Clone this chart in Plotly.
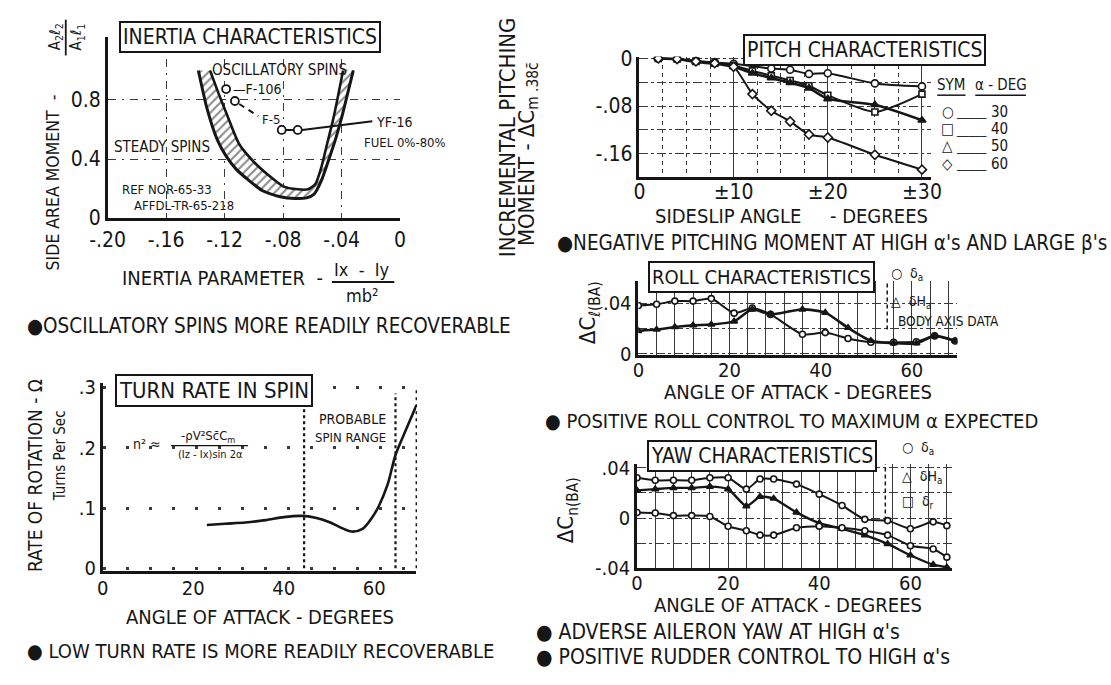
import plotly.graph_objects as go

W, H = 1111, 685
FONT = "Liberation Sans Narrow, DejaVu Sans Condensed, Liberation Sans, Arial, sans-serif"
INK = "#161616"
GRID = "#3a3a3a"

# ---------------- data ----------------
# Inertia characteristics: boundary band between steady and oscillatory spins
inertia_outer_x = [-0.138, -0.132, -0.125, -0.119, -0.112, -0.104, -0.094, -0.082, -0.072,
                   -0.064, -0.059, -0.054, -0.049, -0.044, -0.040, -0.036, -0.032]
inertia_outer_y = [1.00, 0.74, 0.53, 0.42, 0.33, 0.26, 0.185, 0.145, 0.133,
                   0.137, 0.16, 0.25, 0.39, 0.54, 0.68, 0.84, 1.00]
inertia_inner_x = [-0.130, -0.124, -0.118, -0.110, -0.100, -0.090, -0.080, -0.070,
                   -0.063, -0.058, -0.054, -0.050, -0.046, -0.043, -0.039]
inertia_inner_y = [1.00, 0.84, 0.69, 0.50, 0.38, 0.29, 0.215, 0.195,
                   0.195, 0.23, 0.34, 0.50, 0.66, 0.80, 1.00]
inertia_f106 = [-0.119, 0.874]
inertia_f5 = [-0.113, 0.793]
inertia_yf16_x = [-0.081, -0.070]
inertia_yf16_y = [0.597, 0.597]

# Pitch characteristics: incremental pitching moment vs sideslip, per alpha
pitch_beta = [2, 4, 6, 8, 10, 12, 14, 16, 18, 20, 25, 30]
pitch_beta_30 = [2, 4, 6, 8, 10, 14, 16, 18, 20, 25, 30]
pitch_cm_30 = [0, -0.001, -0.004, -0.007, -0.009, -0.017, -0.019, -0.026, -0.025, -0.042, -0.047]
pitch_cm_40 = [0, -0.001, -0.005, -0.008, -0.012, -0.021, -0.029, -0.037, -0.046, -0.062, -0.090, -0.060]
pitch_cm_50 = [0, -0.001, -0.006, -0.009, -0.014, -0.025, -0.033, -0.041, -0.050, -0.068, -0.078, -0.104]
pitch_cm_60 = [0, -0.001, -0.005, -0.008, -0.014, -0.060, -0.088, -0.106, -0.128, -0.133, -0.162, -0.187]
pitch_alpha_labels = ["30", "40", "50", "60"]

# Roll characteristics
roll_alpha = [0, 4, 8, 12, 16, 21, 25, 29, 36, 41, 46, 51, 56, 61, 65, 69.5]
roll_da = [0.038, 0.039, 0.0415, 0.0415, 0.0435, 0.032, 0.036, 0.031, 0.0153, 0.0166,
           0.012, 0.009, 0.009, 0.0094, 0.014, 0.010]
roll_dHa = [0.018, 0.019, 0.021, 0.0224, 0.023, 0.0255, 0.035, 0.031, 0.035, 0.0324,
            0.0204, 0.0102, 0.0082, 0.0082, 0.014, 0.0102]
roll_body_axis_alpha = 54.6

# Yaw characteristics
yaw_alpha = [0, 4, 8, 12, 16, 20, 24, 27, 30, 35, 40, 45, 50, 55, 60, 65, 68]
yaw_dr = [0.032, 0.030, 0.030, 0.030, 0.032, 0.032, 0.023, 0.031, 0.031, 0.027, 0.019,
          0.010, -0.001, -0.002, -0.0085, -0.003, -0.006]
yaw_dHa = [0.022, 0.023, 0.024, 0.024, 0.025, 0.023, 0.0095, 0.017, 0.0155, 0.0045, -0.004,
           -0.0085, -0.0135, -0.0205, -0.0295, -0.037, -0.039]
yaw_da = [0.0045, 0.004, 0.002, 0.002, 0.0013, -0.0065, -0.010, -0.0135, -0.0135, -0.0077,
          -0.0064, -0.0077, -0.010, -0.0135, -0.022, -0.0245, -0.031]
yaw_box_alpha = 54.5

# Turn rate in spin
turn_alpha = [23, 27, 31.5, 36, 40, 44, 47, 50, 52.5, 55, 57.5, 59.5, 61, 63, 64.7, 67.2, 69.3]
turn_rate = [0.072, 0.074, 0.076, 0.080, 0.085, 0.087, 0.084, 0.077, 0.068, 0.061, 0.066,
             0.084, 0.103, 0.140, 0.188, 0.233, 0.270]
spin_range_bounds = [44.5, 64.7]


# ---------------- helpers ----------------
def X(p):
    return p / W


def Y(p):
    return 1 - p / H


def series(x, y, xa, ya, symbol=None, filled=False, width=2.0, msize=7, smoothing=0.6):
    kw = dict(x=x, y=y, xaxis=xa, yaxis=ya, showlegend=False, hoverinfo="skip",
              line=dict(color=INK, width=width, shape="spline", smoothing=smoothing))
    if symbol:
        kw["mode"] = "lines+markers"
        kw["marker"] = dict(symbol=symbol, size=msize, color=INK if filled else "white",
                            line=dict(color=INK, width=1.6))
    else:
        kw["mode"] = "lines"
    return go.Scatter(**kw)


def axis(domain, rng, tickvals, ticktext, anchor, tsize=21, griddash="dashdot",
         showgrid=True, minor=None, gridwidth=1, standoff=0):
    d = dict(domain=domain, range=rng, anchor=anchor, tickmode="array", tickvals=tickvals,
             ticktext=ticktext, showline=True, linecolor=INK, linewidth=2.6, ticks="",
             showgrid=showgrid, gridcolor=GRID, gridwidth=gridwidth, griddash=griddash,
             zeroline=False, fixedrange=True, ticklabelstandoff=standoff,
             tickfont=dict(family=FONT, size=tsize, color=INK))
    if minor:
        d["minor"] = minor
    return d


def txt(x, y, s, size, xanchor="center", yanchor="middle", angle=0, box=False):
    a = dict(x=X(x), y=Y(y), xref="paper", yref="paper", text=s, showarrow=False,
             font=dict(family=FONT, size=size, color=INK), xanchor=xanchor,
             yanchor=yanchor, textangle=angle)
    if box:
        a.update(bordercolor=INK, borderwidth=2, borderpad=2, bgcolor="white")
    return a


def dtxt(x, y, s, size, xr, yr, xanchor="center"):
    return dict(x=x, y=y, xref=xr, yref=yr, text=s, showarrow=False, xanchor=xanchor,
                yanchor="middle", font=dict(family=FONT, size=size, color=INK))


fig = go.Figure()

# ---- inertia band (hatched) ----
band_x = inertia_outer_x + inertia_inner_x[::-1]
band_y = inertia_outer_y + inertia_inner_y[::-1]
fig.add_trace(go.Scatter(x=band_x, y=band_y, xaxis="x", yaxis="y", mode="lines",
                         fill="toself", fillcolor="white",
                         fillpattern=dict(shape="/", fgcolor=INK, bgcolor="white",
                                          size=6, solidity=0.35),
                         line=dict(width=0, shape="spline", smoothing=0.6),
                         showlegend=False, hoverinfo="skip"))
fig.add_trace(series(inertia_outer_x, inertia_outer_y, "x", "y", width=3))
fig.add_trace(series(inertia_inner_x, inertia_inner_y, "x", "y", width=2.6))
fig.add_trace(go.Scatter(x=[inertia_f106[0], inertia_f5[0]], y=[inertia_f106[1], inertia_f5[1]],
                         xaxis="x", yaxis="y", mode="markers", showlegend=False,
                         hoverinfo="skip",
                         marker=dict(symbol="circle", size=8, color="white",
                                     line=dict(color=INK, width=1.8))))
fig.add_trace(go.Scatter(x=inertia_yf16_x, y=inertia_yf16_y, xaxis="x", yaxis="y",
                         mode="lines+markers", showlegend=False, hoverinfo="skip",
                         line=dict(color=INK, width=2),
                         marker=dict(symbol="circle", size=8, color="white",
                                     line=dict(color=INK, width=1.8))))

# ---- pitch ----
fig.add_trace(series(pitch_beta_30, pitch_cm_30, "x2", "y2", "circle"))
fig.add_trace(series(pitch_beta, pitch_cm_40, "x2", "y2", "square", msize=6))
fig.add_trace(series(pitch_beta, pitch_cm_50, "x2", "y2", "triangle-up", filled=True, width=2.6))
fig.add_trace(series(pitch_beta, pitch_cm_60, "x2", "y2", "diamond"))

# ---- roll ----
fig.add_trace(series(roll_alpha, roll_da, "x3", "y3", "circle", msize=6))
fig.add_trace(series(roll_alpha, roll_dHa, "x3", "y3", "triangle-up", filled=True, width=2.6, msize=6))

# ---- yaw ----
fig.add_trace(series(yaw_alpha, yaw_dr, "x4", "y4", "circle", msize=6))
fig.add_trace(series(yaw_alpha, yaw_dHa, "x4", "y4", "triangle-up", filled=True, width=2.4, msize=6))
fig.add_trace(series(yaw_alpha, yaw_da, "x4", "y4", "circle", msize=6))

# ---- turn rate ----
fig.add_trace(series(turn_alpha, turn_rate, "x5", "y5", width=2.6, smoothing=0.8))

minor_dash = dict(showgrid=True, gridcolor=GRID, gridwidth=1, griddash="4px,4px", ticks="")

fig.update_layout(
    width=W, height=H, autosize=False, margin=dict(l=0, r=0, t=0, b=0),
    paper_bgcolor="white", plot_bgcolor="white", showlegend=False,
    xaxis=axis([X(92), X(392)], [-0.2, 0], [-0.2, -0.16, -0.12, -0.08, -0.04, 0],
               ["-.20", "-.16", "-.12", "-.08", "-.04", "0"], "y", griddash="8px,6px,2px,6px",
               standoff=1),
    yaxis=axis([Y(215), Y(28)], [0, 1.226], [0, 0.4, 0.8], ["0", "0.4", "0.8"], "x",
               griddash="8px,6px,2px,6px"),
    xaxis2=axis([X(637.5), X(937)], [0, 31], [0, 10, 20, 30], ["0", "±10", "±20", "±30"], "y2",
                griddash="solid", minor=dict(dtick=2.5, **minor_dash), standoff=-6),
    yaxis2=axis([Y(172.3), Y(48.2)], [-0.199, 0.003], [0, -0.08, -0.16], ["0", "-.08", "-.16"], "x2",
                minor=dict(dtick=0.04, showgrid=True, gridcolor=GRID, gridwidth=1,
                           griddash="dashdot", ticks="")),
    xaxis3=axis([X(636.4), X(963.7)], [0, 70], [0, 20, 40, 60], ["0", "20", "40", "60"], "y3",
                tsize=20, griddash="solid", standoff=-5,
                minor=dict(dtick=4, showgrid=True, gridcolor=GRID, gridwidth=1, griddash="solid", ticks="")),
    yaxis3=axis([Y(356.7), Y(280)], [-0.0013, 0.0574], [0, 0.04], ["0", ".04"], "x3", tsize=20,
                minor=dict(dtick=0.02, showgrid=True, gridcolor=GRID, gridwidth=1,
                           griddash="dashdot", ticks="")),
    xaxis4=axis([X(635), X(958)], [0, 69.1], [0, 20, 40, 60], ["0", "20", "40", "60"], "y4",
                tsize=20, griddash="solid", standoff=-5,
                minor=dict(dtick=4, showgrid=True, gridcolor=GRID, gridwidth=1, griddash="solid", ticks="")),
    yaxis4=axis([Y(577), Y(469)], [-0.04, 0.043], [-0.04, 0, 0.04], ["-.04", "0", ".04"], "x4", tsize=20,
                minor=dict(dtick=0.02, showgrid=True, gridcolor=GRID, gridwidth=1,
                           griddash="dashdot", ticks="")),
    xaxis5=axis([X(87), X(408.6)], [0, 69.3], [0, 20, 40, 60], ["0", "20", "40", "60"], "y5",
                showgrid=False, tsize=20, standoff=-3),
    yaxis5=axis([Y(580), Y(385)], [-0.005, 0.308], [0, 0.1, 0.2, 0.3], ["0", ".1", ".2", ".3"], "x5",
                griddash="3px,20px", gridwidth=3, tsize=20),
)

ann = []
# title boxes
ann.append(txt(237.5, 28, "INERTIA CHARACTERISTICS", 21, box=True))
ann.append(txt(868, 41, "PITCH CHARACTERISTICS", 21, box=True))
ann.append(txt(763, 276, "ROLL CHARACTERISTICS", 20, box=True))
ann.append(txt(763, 461, "YAW CHARACTERISTICS", 21, box=True))
ann.append(txt(201.5, 393, "TURN RATE IN SPIN", 22, box=True))

# --- inertia texts ---
ann.append(txt(36, 178, "SIDE AREA MOMENT  -", 17.5, angle=-90))
ann.append(txt(38, 28, "A<sub>2</sub>ℓ<sub>2</sub>", 15, angle=-90))
ann.append(txt(60, 28, "A<sub>1</sub>ℓ<sub>1</sub>", 15, angle=-90))
ann.append(txt(210, 277, "INERTIA PARAMETER  -", 20))
ann.append(txt(353, 268, "Ix  -  Iy", 18))
ann.append(txt(353, 295, "mb²", 18))
ann.append(txt(268, 62, "OSCILLATORY SPINS", 15))
ann.append(txt(147.5, 141.5, "STEADY SPINS", 15))
ann.append(txt(152.5, 185, "REF NOR-65-33", 13))
ann.append(txt(170.8, 201.7, "AFFDL-TR-65-218", 13))
ann.append(dtxt(-0.116, inertia_f106[1], "—F-106", 14, "x", "y", xanchor="left"))
ann.append(dtxt(-0.088, 0.669, "F-5", 13, "x", "y"))
ann.append(dtxt(-0.018, 0.650, "YF-16", 14, "x", "y", xanchor="left"))
ann.append(dtxt(-0.026, 0.512, "FUEL 0%-80%", 13, "x", "y", xanchor="left"))
ann.append(txt(7, 326, "●OSCILLATORY SPINS MORE READILY RECOVERABLE", 20.5, xanchor="left"))

# --- pitch texts ---
ann.append(txt(502, 131, "INCREMENTAL PITCHING", 22, angle=-90))
ann.append(txt(523, 149, "MOMENT - ΔC<sub>m .38c̄</sub>", 22, angle=-90))
ann.append(txt(794, 213, "SIDESLIP ANGLE\u00a0\u00a0\u00a0\u00a0\u00a0- DEGREES", 20))
ann.append(txt(551, 241, "●NEGATIVE PITCHING MOMENT AT HIGH α's AND LARGE β's", 20.5, xanchor="left"))
ann.append(txt(957, 78, "SYM", 15))
ann.append(txt(1008, 78, "α - DEG", 15))
for i, (sym, lab) in enumerate(zip(["○", "□", "△", "◇"], pitch_alpha_labels)):
    yy = 105 + i * 18
    ann.append(txt(954, yy, sym, 15))
    ann.append(txt(978, yy, "_____", 13))
    ann.append(txt(1007, yy, lab, 15))

# --- roll texts ---
ann.append(txt(587, 313, "ΔC<sub>ℓ(BA)</sub>", 22, angle=-90))
ann.append(txt(800, 395, "ANGLE OF ATTACK - DEGREES", 20))
ann.append(txt(894, 273, "○  δ<sub>a</sub>", 14, xanchor="left"))
ann.append(txt(894, 302, "△  δH<sub>a</sub>", 14, xanchor="left"))
ann.append(txt(901, 321, "BODY AXIS DATA", 13.5, xanchor="left"))
ann.append(txt(539, 425, "● POSITIVE ROLL CONTROL TO MAXIMUM α EXPECTED", 20, xanchor="left"))

# --- yaw texts ---
ann.append(txt(564, 517, "ΔC<sub>n(BA)</sub>", 22, angle=-90))
ann.append(txt(790, 615, "ANGLE OF ATTACK - DEGREES", 20))
ann.append(txt(905, 453, "○  δ<sub>a</sub>", 14, xanchor="left"))
ann.append(txt(905, 482, "△  δH<sub>a</sub>", 14, xanchor="left"))
ann.append(txt(905, 508, "□  δ<sub>r</sub>", 14, xanchor="left"))
ann.append(txt(529, 643, "● ADVERSE AILERON YAW AT HIGH α's", 21, xanchor="left"))
ann.append(txt(529, 668, "● POSITIVE RUDDER CONTROL TO HIGH α's", 21, xanchor="left"))

# --- turn texts ---
ann.append(txt(17, 481, "RATE OF ROTATION - Ω", 19, angle=-90))
ann.append(txt(43, 460, "Turns Per Sec", 15, angle=-90))
ann.append(txt(132, 448, "n² ≈", 14))
ann.append(txt(195, 441, "-ρV²Sc̄C<sub>m</sub>", 13))
ann.append(txt(197, 459, "(Iz - Ix)sin 2α", 11))
ann.append(txt(343, 423, "PROBABLE", 14))
ann.append(txt(341, 442, "SPIN RANGE", 13))
ann.append(txt(248, 627, "ANGLE OF ATTACK - DEGREES", 20))
ann.append(txt(7, 662, "● LOW TURN RATE IS MORE READILY RECOVERABLE", 20, xanchor="left"))

fig.update_layout(annotations=ann)

shapes = []
# fraction bars
shapes.append(dict(type="line", xref="paper", yref="paper", x0=X(49), x1=X(49), y0=Y(10), y1=Y(47),
                   line=dict(color=INK, width=1.8)))
shapes.append(dict(type="line", xref="paper", yref="paper", x0=X(322), x1=X(386), y0=Y(281), y1=Y(281),
                   line=dict(color=INK, width=1.8)))
shapes.append(dict(type="line", xref="paper", yref="paper", x0=X(157), x1=X(236), y0=Y(450), y1=Y(450),
                   line=dict(color=INK, width=1.3)))
# legend underlines (pitch)
shapes.append(dict(type="line", xref="paper", yref="paper", x0=X(943), x1=X(972), y0=Y(88), y1=Y(88),
                   line=dict(color=INK, width=1.5)))
shapes.append(dict(type="line", xref="paper", yref="paper", x0=X(982), x1=X(1034), y0=Y(88), y1=Y(88),
                   line=dict(color=INK, width=1.5)))
# inertia leader lines
shapes.append(dict(type="line", xref="x", yref="y", x0=inertia_f5[0] + 0.003, y0=inertia_f5[1] - 0.02,
                   x1=-0.097, y1=0.69, line=dict(color=INK, width=2, dash="6px,5px")))
shapes.append(dict(type="line", xref="x", yref="y", x0=inertia_yf16_x[1] + 0.003, y0=inertia_yf16_y[1],
                   x1=-0.019, y1=0.656, line=dict(color=INK, width=2)))
# roll / yaw body-axis bracket lines
shapes.append(dict(type="line", xref="x3", yref="y3", x0=roll_body_axis_alpha, x1=roll_body_axis_alpha,
                   y0=0.019, y1=0.059, line=dict(color=INK, width=1.5, dash="4px,3px")))
shapes.append(dict(type="line", xref="x4", yref="y4", x0=yaw_box_alpha, x1=yaw_box_alpha,
                   y0=-0.002, y1=0.045, line=dict(color=INK, width=1.5, dash="4px,3px")))
# probable spin range boundaries
for b in spin_range_bounds:
    shapes.append(dict(type="line", xref="x5", yref="y5", x0=b, x1=b, y0=0, y1=0.29,
                       line=dict(color=INK, width=2.2, dash="3px,3px")))
shapes.append(dict(type="line", xref="x5 domain", yref="y5", x0=1, x1=1, y0=0, y1=0.3,
                   line=dict(color=INK, width=1.5, dash="3px,4px")))
fig.update_layout(shapes=shapes)

fig.write_html("out.html")
